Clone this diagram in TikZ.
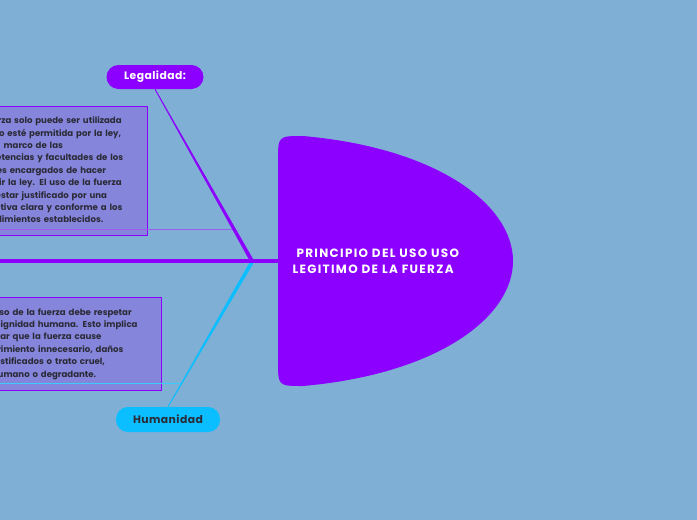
\documentclass[tikz,border=0pt]{standalone}
\usepackage{fontspec}
\setmainfont{Poppins}
\usetikzlibrary{calc}

\definecolor{bgblue}{HTML}{7FAFD5}
\definecolor{mmpurple}{HTML}{8C00FF}
\definecolor{mmcyan}{HTML}{0ABEFF}
\definecolor{boxfill}{HTML}{8585DC}
\definecolor{darktext}{HTML}{2B2B38}
\definecolor{leglink}{HTML}{9B5CF0}

\begin{document}
\begin{tikzpicture}[x=1pt,y=-1pt,
    pill/.style={rounded corners=12pt,minimum width=97pt,minimum height=24pt,inner sep=0pt,
        font=\fontsize{10.8}{12}\selectfont\bfseries\addfontfeature{LetterSpace=4}},
    notebox/.style={draw=mmpurple,line width=0.8pt,fill=boxfill,inner sep=0pt,
        text width=#1,align=left,text=darktext,font=\fontsize{8.6}{12.4}\selectfont\bfseries},
    spine/.style={mmpurple,line width=4.5pt},
    link/.style={line width=0.8pt}]

    \useasboundingbox (0,0) rectangle (697,520);
    \clip (0,0) rectangle (697,520);
    \fill[bgblue] (0,0) rectangle (697,520);

    % TEXT BOXES
    \node[notebox=169pt,minimum width=185pt,minimum height=129pt,anchor=north east] (legtxt) at (148,106)
        {La fuerza solo puede ser utilizada\\
         cuando esté permitida por la ley,\\
         y en el marco de las\\
         competencias y facultades de los\\
         agentes encargados de hacer\\
         cumplir la ley. El uso de la fuerza\\
         debe estar justificado por una\\
         normativa clara y conforme a los\\
         procedimientos establecidos.};
    \node[notebox=168pt,minimum width=188pt,minimum height=93pt,anchor=north east] (humtxt) at (162,297)
        {El uso de la fuerza debe respetar\\
         la dignidad humana. Esto implica\\
         evitar que la fuerza cause\\
         sufrimiento innecesario, daños\\
         injustificados o trato cruel,\\
         inhumano o degradante.};

    % TOPICS
    \node[pill,fill=mmpurple,text=white] (legal) at (155,77) {Legalidad:};
    \node[pill,fill=mmcyan,text=darktext,minimum width=104pt,minimum height=25pt] (hum) at (168,419.5) {Humanidad};

    \coordinate (root) at (-5,261);
    \coordinate (hub) at (252,261);
    \coordinate (head) at (278,261);

    % LINKS
    \coordinate (lk) at ($(legal.south)!0.815!(hub)$);
    \coordinate (hk) at ($(hum.north)!0.158!(hub)$);
    \draw[link,leglink] (lk -| legtxt.west) -- (lk);
    \draw[link,mmcyan!80!white] (hk -| humtxt.west) -- (hk);

    % BRANCHES
    \fill[mmpurple] ($(legal.south)+(-0.5,0)$) -- ($(legal.south)+(0.5,0)$)
        -- ($(hub)+(2.2,0)$) -- ($(hub)+(-2.2,0)$) -- cycle;
    \fill[mmcyan] ($(hum.north)+(-0.5,0)$) -- ($(hum.north)+(0.5,0)$)
        -- ($(hub)+(2.2,1)$) -- ($(hub)+(-2.2,1)$) -- cycle;
    \draw[spine] (root) -- (head);

    % CENTRAL TOPIC
    \begin{scope}[shift={(head)}]
        \fill[mmpurple] (0,0) -- (0,-100) .. controls (0,-125) .. (25,-125)
            .. controls (160,-113) and (235,-56) .. (235,0)
            .. controls (235,56) and (160,113) .. (25,125)
            .. controls (0,125) .. (0,100) -- cycle;
    \end{scope}
    \node[anchor=west,align=left,text=white,
        font=\fontsize{12}{16}\selectfont\bfseries\addfontfeature{LetterSpace=11}] (title) at (289,261)
        {\hspace{4pt}PRINCIPIO DEL USO USO\\LEGITIMO DE LA FUERZA};

\end{tikzpicture}
\end{document}
